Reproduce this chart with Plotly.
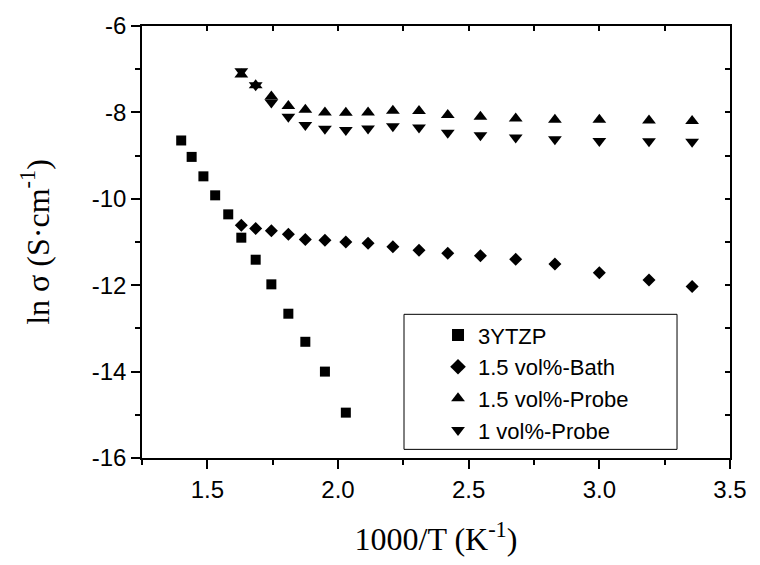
import plotly.graph_objects as go

# ---- data ----
x_3ytzp = [1.40, 1.44, 1.485, 1.53, 1.58, 1.63, 1.685, 1.745, 1.81, 1.875, 1.95, 2.03]
y_3ytzp = [-8.65, -9.03, -9.48, -9.92, -10.36, -10.90, -11.41, -11.98, -12.66, -13.31, -14.00, -14.95]

x_comp = [1.63, 1.685, 1.745, 1.81, 1.875, 1.95, 2.03, 2.115, 2.21, 2.31, 2.42, 2.545,
          2.68, 2.83, 3.00, 3.19, 3.355]
y_bath15 = [-10.61, -10.69, -10.74, -10.82, -10.94, -10.96, -11.00, -11.03, -11.11, -11.19,
            -11.26, -11.32, -11.40, -11.51, -11.71, -11.88, -12.03]
y_probe15 = [-7.12, -7.37, -7.63, -7.85, -7.94, -8.00, -8.01, -8.00, -7.96, -7.97, -8.06,
             -8.10, -8.14, -8.17, -8.17, -8.19, -8.20]
y_probe1 = [-7.05, -7.37, -7.77, -8.10, -8.29, -8.38, -8.41, -8.37, -8.32, -8.35, -8.47,
            -8.53, -8.58, -8.62, -8.66, -8.67, -8.68]

names = ["3YTZP", "1.5 vol%-Bath", "1.5 vol%-Probe", "1 vol%-Probe"]

x_tickvals = [1.5, 2.0, 2.5, 3.0, 3.5]
x_ticktext = ["1.5", "2.0", "2.5", "3.0", "3.5"]
y_tickvals = [-16, -14, -12, -10, -8, -6]
y_ticktext = ["-16", "-14", "-12", "-10", "-8", "-6"]

SANS = "Liberation Sans, Arial, sans-serif"
SERIF = "Liberation Serif, Times New Roman, serif"

fig = go.Figure()
fig.add_trace(go.Scatter(x=x_3ytzp, y=y_3ytzp, mode="markers", name=names[0],
                         marker=dict(symbol="square", size=10, color="black")))
fig.add_trace(go.Scatter(x=x_comp, y=y_bath15, mode="markers", name=names[1],
                         marker=dict(symbol="diamond", size=10, color="black")))
fig.add_trace(go.Scatter(x=x_comp, y=y_probe15, mode="markers", name=names[2],
                         marker=dict(symbol="triangle-up", size=12, color="black")))
fig.add_trace(go.Scatter(x=x_comp, y=y_probe1, mode="markers", name=names[3],
                         marker=dict(symbol="triangle-down", size=12, color="black")))
# empty trace to realise the mirrored (top/right) axes
fig.add_trace(go.Scatter(x=[], y=[], xaxis="x2", yaxis="y2", showlegend=False,
                         hoverinfo="skip"))

XR = [1.25, 3.5]
YR = [-16, -6]

fig.update_layout(
    width=760, height=565,
    margin=dict(l=142, r=30, t=23, b=107),
    paper_bgcolor="white", plot_bgcolor="white",
    font=dict(family=SANS, size=24, color="black"),
    showlegend=True,
    legend=dict(x=0.4456, y=0.3326, xanchor="left", yanchor="top",
                borderwidth=0, bgcolor="rgba(0,0,0,0)",
                font=dict(family=SANS, size=22, color="black"),
                indentation=34, tracegroupgap=0, itemsizing="constant"),
    # legend frame
    shapes=[dict(type="rect", xref="paper", yref="paper",
                 x0=0.4456, x1=0.9099, y0=0.02, y1=0.3326,
                 line=dict(color="black", width=1), fillcolor="rgba(0,0,0,0)",
                 layer="above")],
    xaxis=dict(range=XR, tickmode="array", tickvals=x_tickvals, ticktext=x_ticktext,
               ticks="outside", ticklen=9, tickwidth=1.5,
               tickcolor="black", showline=True, linewidth=1.5, linecolor="black",
               showgrid=False, zeroline=False,
               minor=dict(dtick=0.25, tick0=1.25, ticks="outside", ticklen=5,
                          tickwidth=1.5, tickcolor="black", showgrid=False),
               title=dict(text="1000/T (K<sup>-1</sup>)",
                          font=dict(family=SERIF, size=32, color="black"), standoff=26)),
    yaxis=dict(range=YR, tickmode="array", tickvals=y_tickvals, ticktext=y_ticktext,
               ticks="outside", ticklen=9, tickwidth=1.5,
               tickcolor="black", showline=True, linewidth=1.5, linecolor="black",
               showgrid=False, zeroline=False,
               minor=dict(dtick=1, tick0=-16, ticks="outside", ticklen=5, tickwidth=1.5,
                          tickcolor="black", showgrid=False),
               title=dict(text="ln σ (S·cm<sup>-1</sup>)",
                          font=dict(family=SERIF, size=32, color="black"), standoff=33)),
    xaxis2=dict(range=XR, overlaying="x", side="top", anchor="y2", tick0=1.25, dtick=0.25,
                ticks="inside", ticklen=5, tickwidth=1.5, tickcolor="black",
                showline=True, linewidth=1.5, linecolor="black", showticklabels=False,
                showgrid=False, zeroline=False),
    yaxis2=dict(range=YR, overlaying="y", side="right", anchor="x2", tick0=-16, dtick=1,
                ticks="inside", ticklen=5, tickwidth=1.5, tickcolor="black",
                showline=True, linewidth=1.5, linecolor="black", showticklabels=False,
                showgrid=False, zeroline=False),
)

fig.write_html("out.html")
